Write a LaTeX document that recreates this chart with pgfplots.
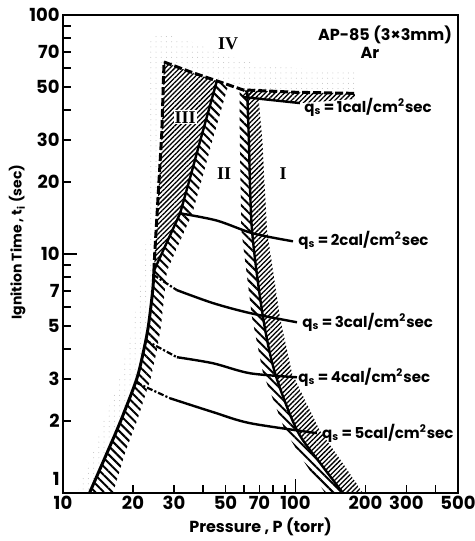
\documentclass[border=0pt]{standalone}
\usepackage{pgfplots}
\pgfplotsset{compat=1.18}
\usetikzlibrary{patterns,patterns.meta}
\usepackage{fontspec}
\setmainfont{Poppins}
\newfontfamily\romfont{Liberation Serif}

\begin{document}
\begin{tikzpicture}[font=\bfseries]
\begin{axis}[
  xmode=log, ymode=log,
  xmin=10, xmax=500, ymin=1, ymax=100,
  scale only axis, width=197.5pt, height=239pt,
  axis line style={line width=1pt},
  tick pos=left, tick align=inside,
  xtick={10,20,30,40,50,60,70,80,90,100,200,300,400,500},
  xticklabels={10,20,30,,50,,70,,,100,200,300,,500},
  ytick={1,2,3,4,5,6,7,8,9,10,20,30,40,50,60,70,80,90,100},
  yticklabels={\smash{\raisebox{4pt}{1}}\hspace{4pt},2,3,,5,,7,,,10,20,30,,50,,70,,,100},
  extra x ticks={100}, extra x tick labels={},
  extra y ticks={10}, extra y tick labels={},
  extra tick style={major tick length=7pt},
  major tick length=4pt, minor tick length=0pt,
  tick style={line width=0.8pt, black},
  ticklabel style={font=\bfseries\fontsize{9}{10}\selectfont, inner sep=1.5pt},
  xlabel={Pressure , P (torr)},
  ylabel={Ignition Time , t\textsubscript{i} (sec)},
  xlabel style={font=\bfseries\fontsize{8}{10}\selectfont, at={(axis description cs:0.5,-0.071)}, anchor=center},
  ylabel style={font=\bfseries\fontsize{7}{9}\selectfont, at={(axis description cs:-0.116,0.525)}, anchor=center},
]
% stippled border of region IV
\addplot[draw=none, pattern={Dots[distance=2.6pt, radius=0.25pt]}, pattern color=gray!50]
  coordinates {(11.5,1) (13.5,1.5) (15.5,2.2) (17.5,3) (19.5,4.5) (21,6.5) (22.5,10) (23.3,15) (23.6,30) (23.7,80)
    (26,84) (35,78) (50,68) (70,62) (100,60) (180,59) (183,47)
    (180,47) (100,47.5) (59.5,48.6) (45.9,53) (35,58) (27.2,63.6)
    (26.6,32) (25.4,14.8) (24.8,10) (24.6,8.5) (24.3,7) (23.3,5) (22.3,4) (20.75,3) (17.7,2) (15.6,1.5) (13,1)};
% region III, fine hatching
\addplot[draw=none, pattern={Lines[angle=45, distance=1.7pt, line width=0.65pt]}]
  coordinates {(24.6,8.5) (24.8,10) (25.4,14.8) (26.6,32) (27.2,63.6) (35,58) (45.9,53)
    (39,30) (35,20.4) (31.9,14.8) (24.6,8.5)};
% coarse teeth right of the III/II edge
\addplot[draw=none, pattern={Lines[angle=-45, distance=3pt, line width=1pt]}]
  coordinates {(24.6,8.5) (31.9,14.8) (35,20.4) (39,30) (45.9,53) (51.5,51.3)
    (44,30) (39.5,20.4) (36,14.8) (28,8.5)};
% coarse teeth right of the lower boundary
\addplot[draw=none, pattern={Lines[angle=-45, distance=3pt, line width=1pt]}]
  coordinates {(13,1) (15.6,1.5) (17.7,2) (20.75,3) (22.3,4) (23.3,5) (24.3,7) (24.6,8.5)
    (28,8.5) (27.4,7) (26.4,5) (25.4,4) (23.8,3) (20.8,2) (18.6,1.5) (16.4,1)};
% top band under the q=1 line
\addplot[draw=none, pattern={Lines[angle=45, distance=1.7pt, line width=0.65pt]}]
  coordinates {(59.5,48.6) (100,47.5) (180,47) (180,44.5) (104.5,42.8) (80,44) (59.5,45.4)};
% I/II band: coarse part
\addplot[draw=none, pattern={Lines[angle=-45, distance=3pt, line width=1pt]}]
  coordinates {(57.5,48.6) (57.6,30) (58.5,12.6) (65,5.44) (72.5,3.17) (90,1.83) (110,1.33) (134,1)
    (160,1) (128,1.33) (101.5,1.83) (81.7,3.17) (72.5,5.44) (65,12.6) (63,30) (62,48.3)};
% I/II band: fine part
\addplot[draw=none, pattern={Lines[angle=45, distance=1.7pt, line width=0.65pt]}]
  coordinates {(62,48.3) (63,30) (65,12.6) (72.5,5.44) (81.7,3.17) (101.5,1.83) (128,1.33) (160,1)
    (195,1) (160,1.33) (127,1.83) (96.6,3.17) (85.7,5.44) (75.4,12.6) (72,30) (69,47.6)};
% boundaries
\addplot[line width=1.5pt, smooth] coordinates {(13,1) (15.6,1.5) (17.7,2) (20.75,3) (22.3,4) (23.3,5) (24.3,7) (24.6,8.5)};
\addplot[line width=1.5pt, dash pattern=on 4pt off 1.5pt] coordinates {(24.6,8.5) (24.8,10) (25.4,14.8) (26.6,32) (27.2,63.6)};
\addplot[line width=1.5pt, dash pattern=on 4pt off 1.5pt] coordinates {(27.2,63.6) (35,58) (45.9,53) (59.5,48.6) (100,47.5) (180,47)};
\addplot[line width=1.2pt] coordinates {(24.6,8.5) (31.9,14.8) (35,20.4) (39,30) (45.9,53)};
\addplot[line width=1.2pt, smooth] coordinates {(62,48.3) (63,30) (65,12.6) (72.5,5.44) (81.7,3.17) (101.5,1.83) (128,1.33) (160,1)};
% constant heat flux lines
\addplot[line width=1.2pt, smooth] coordinates {(59.5,45.4) (80,44) (104.5,42.8)};
\addplot[line width=1.2pt, smooth] coordinates {(31.9,14.8) (45.9,13.8) (65.6,12.2) (97.6,11.3)};
\addplot[line width=1.1pt, densely dashdotted] coordinates {(24.4,8.2) (30.9,7.06)};
\addplot[line width=1.2pt, smooth] coordinates {(30.9,7.06) (44.2,6.23) (63.7,5.66) (101.5,5.18)};
\addplot[line width=1.1pt, densely dashdotted] coordinates {(22.6,4.36) (30.9,3.70)};
\addplot[line width=1.2pt, smooth] coordinates {(30.9,3.70) (44.2,3.49) (63.7,3.17) (101.5,3.05)};
\addplot[line width=1.1pt, densely dashdotted] coordinates {(20.6,2.9) (28.9,2.49)};
\addplot[line width=1.2pt, smooth] coordinates {(28.9,2.49) (44.2,2.18) (63.7,1.96) (123.6,1.78)};
% labels
\begin{scope}[font=\bfseries\fontsize{7.5}{9}\selectfont]
\node[anchor=west, inner sep=1pt] at (axis cs:106.7,41.2) {q\textsubscript{s}\,=\,1cal/cm\textsuperscript{2}sec};
\node[anchor=west, inner sep=1pt] at (axis cs:100.5,11.35) {q\textsubscript{s}\,=\,2cal/cm\textsuperscript{2}sec};
\node[anchor=west, inner sep=1pt] at (axis cs:104.5,5.18) {q\textsubscript{s}\,=\,3cal/cm\textsuperscript{2}sec};
\node[anchor=west, inner sep=1pt] at (axis cs:100.5,3.05) {q\textsubscript{s}\,=\,4cal/cm\textsuperscript{2}sec};
\node[anchor=west, inner sep=1pt] at (axis cs:127.2,1.78) {q\textsubscript{s}\,=\,5cal/cm\textsuperscript{2}sec};
\end{scope}
\begin{scope}[font=\bfseries\fontsize{8}{9}\selectfont]
\node at (axis cs:242.7,82.5) {AP-85 (3×3mm)};
\node at (axis cs:209,69.4) {Ar};
\end{scope}
\begin{scope}[font=\romfont\bfseries\fontsize{9}{10}\selectfont]
\node at (axis cs:51.3,76) {IV};
\node[fill=white, inner sep=0.5pt] at (axis cs:33.5,37.3) {III};
\node at (axis cs:49.3,21.8) {II};
\node at (axis cs:88.4,21.8) {I};
\end{scope}
\end{axis}
\pgfresetboundingbox
\path ([shift={(-31.5pt,-24pt)}]current axis.south west) rectangle ([shift={(8.5pt,7.5pt)}]current axis.north east);
\end{tikzpicture}
\end{document}
